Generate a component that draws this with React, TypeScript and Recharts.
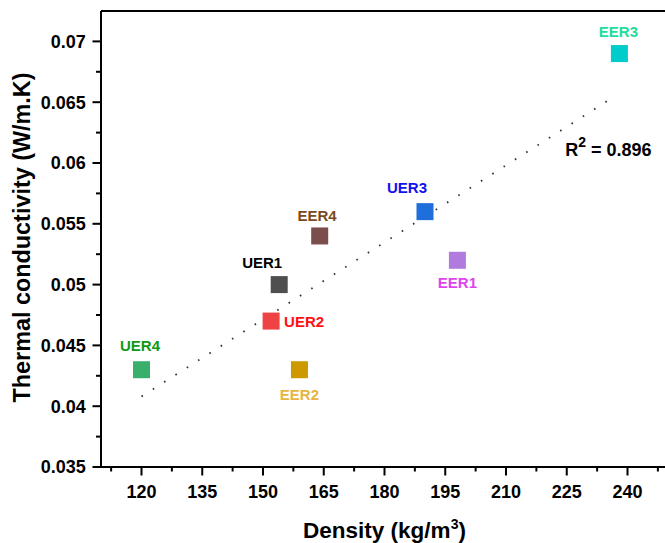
import React from 'react';
import { ScatterChart, Scatter, XAxis, YAxis, ReferenceLine, ReferenceDot, Label } from 'recharts';

// ---- data ----
const sampleNames = ['UER1', 'UER2', 'UER3', 'UER4', 'EER1', 'EER2', 'EER3', 'EER4'];
const densityValues = [154, 152, 190, 120, 198, 159, 238, 164];
const conductivityValues = [0.05, 0.047, 0.056, 0.043, 0.052, 0.043, 0.069, 0.054];

const xMajorTicks = [120, 135, 150, 165, 180, 195, 210, 225, 240];
const xMinorTicks = [112.5, 127.5, 142.5, 157.5, 172.5, 187.5, 202.5, 217.5, 232.5, 247.5];
const yMajorTicks = [0.035, 0.04, 0.045, 0.05, 0.055, 0.06, 0.065, 0.07];
const yMajorTickLabels = ['0.035', '0.04', '0.045', '0.05', '0.055', '0.06', '0.065', '0.07'];
const yMinorTicks = [0.0375, 0.0425, 0.0475, 0.0525, 0.0575, 0.0625, 0.0675];

const fitLineX = [120, 235.5];
const fitLineY = [0.0408, 0.0652];
const rSquaredValue = '0.896';
const rSquaredAnchorX = 224.6;
const rSquaredAnchorY = 0.0606;

const xDomain = [110, 250];
const yDomain = [0.035, 0.0725];

// ---- styles ----
const FONT = '"Liberation Sans", Arial, Helvetica, sans-serif';
const markerColors: Record<string, string> = {
  UER1: '#4f4f4f', UER2: '#ef4343', UER3: '#1e6fdc', UER4: '#38af6b',
  EER1: '#b07adf', EER2: '#cc9900', EER3: '#00cccc', EER4: '#7b4d4d',
};
const labelColors: Record<string, string> = {
  UER1: '#000000', UER2: '#ff1111', UER3: '#1111ee', UER4: '#119911',
  EER1: '#dd44ee', EER2: '#e8b440', EER3: '#22dd99', EER4: '#7a4a20',
};
const labelPlacement: Record<string, { dx: number; dy: number; anchor: 'start' | 'middle' }> = {
  UER1: { dx: -17, dy: -21.6, anchor: 'middle' },
  UER2: { dx: 13, dy: 0.7, anchor: 'start' },
  UER3: { dx: -18, dy: -24, anchor: 'middle' },
  UER4: { dx: -1.5, dy: -24, anchor: 'middle' },
  EER1: { dx: 0, dy: 22.4, anchor: 'middle' },
  EER2: { dx: 0, dy: 25, anchor: 'middle' },
  EER3: { dx: -1, dy: -22, anchor: 'middle' },
  EER4: { dx: -2.7, dy: -20.3, anchor: 'middle' },
};
const SQ = 17;

const XTick = (props: any) => {
  const { x, y, payload } = props;
  const v = payload.value;
  const major = xMajorTicks.includes(v);
  return (
    <g>
      <line x1={x} x2={x} y1={y} y2={y + (major ? 8.5 : 4.5)} stroke="#000" strokeWidth={2} />
      {major && (
        <text x={x} y={y + 30.5} textAnchor="middle" fontSize={18} fontWeight="bold" fontFamily={FONT} fill="#000">
          {String(v)}
        </text>
      )}
    </g>
  );
};

const YTick = (props: any) => {
  const { x, y, payload } = props;
  const v = payload.value;
  const idx = yMajorTicks.indexOf(v);
  const major = idx >= 0;
  return (
    <g>
      <line x1={x} x2={x - (major ? 8.5 : 5)} y1={y} y2={y} stroke="#000" strokeWidth={2} />
      {major && (
        <text x={x - 15.3} y={y + 6.4} textAnchor="end" fontSize={18} fontWeight="bold" fontFamily={FONT} fill="#000">
          {yMajorTickLabels[idx]}
        </text>
      )}
    </g>
  );
};

const makeShape = (name: string) => (props: any) => {
  const { cx, cy } = props;
  if (cx == null || cy == null) return <g />;
  const p = labelPlacement[name];
  return (
    <g>
      <rect x={cx - SQ / 2} y={cy - SQ / 2} width={SQ} height={SQ} fill={markerColors[name]} />
      <text
        x={cx + p.dx}
        y={cy + p.dy + 5.4}
        textAnchor={p.anchor}
        fontSize={15}
        fontWeight="bold"
        fontFamily={FONT}
        fill={labelColors[name]}
      >
        {name}
      </text>
    </g>
  );
};

const XTitle = (props: any) => {
  const vb = props.viewBox || { x: 101, y: 466.7, width: 567, height: 76 };
  return (
    <text x={vb.x + vb.width / 2} y={vb.y + 70.5} textAnchor="middle" fontSize={22.5} fontWeight="bold" fontFamily={FONT} fill="#000">
      Density (kg/m
      <tspan dy={-9} fontSize={14}>3</tspan>
      <tspan dy={9}>)</tspan>
    </text>
  );
};

const YTitle = (props: any) => {
  const vb = props.viewBox || { x: 0, y: 11, width: 101, height: 455.7 };
  const cx = vb.x + 30;
  const cy = vb.y + vb.height / 2 - 1.5;
  return (
    <text
      x={cx}
      y={cy}
      transform={`rotate(-90, ${cx}, ${cy})`}
      textAnchor="middle"
      fontSize={23.4}
      fontWeight="bold"
      fontFamily={FONT}
      fill="#000"
    >
      Thermal conductivity (W/m.K)
    </text>
  );
};

const RSquaredShape = (props: any) => {
  const { cx, cy } = props;
  if (cx == null || cy == null) return <g />;
  return (
    <text x={cx} y={cy} fontSize={18} fontWeight="bold" fontFamily={FONT} fill="#000">
      R
      <tspan dy={-9} fontSize={14}>2</tspan>
      <tspan dy={9}>{' = ' + rSquaredValue}</tspan>
    </text>
  );
};

export default function App() {
  const xTicksAll = [...xMinorTicks, ...xMajorTicks].sort((a, b) => a - b);
  const yTicksAll = [...yMinorTicks, ...yMajorTicks].sort((a, b) => a - b);
  const fitSegment = [
    { x: fitLineX[0], y: fitLineY[0] },
    { x: fitLineX[1], y: fitLineY[1] },
  ];
  return (
    <div style={{ position: 'absolute', left: 0, top: 0, width: 665, height: 543, overflow: 'hidden', background: '#fff' }}>
      <ScatterChart width={668} height={543} margin={{ top: 11, right: 0, bottom: 0, left: 0 }}>
        <XAxis
          type="number"
          dataKey="x"
          domain={xDomain}
          ticks={xTicksAll}
          interval={0}
          tick={<XTick />}
          tickLine={false}
          tickSize={0}
          tickMargin={0}
          height={76}
          allowDataOverflow
          axisLine={{ stroke: '#000', strokeWidth: 2 }}
        >
          <Label content={<XTitle />} />
        </XAxis>
        <YAxis
          type="number"
          dataKey="y"
          domain={yDomain}
          ticks={yTicksAll}
          interval={0}
          tick={<YTick />}
          tickLine={false}
          tickSize={0}
          tickMargin={0}
          width={101}
          allowDataOverflow
          axisLine={{ stroke: '#000', strokeWidth: 2 }}
        >
          <Label content={<YTitle />} />
        </YAxis>
        <ReferenceLine y={yDomain[1]} stroke="#000" strokeWidth={2} />
        {sampleNames.map((name, i) => (
          <Scatter
            key={name}
            name={name}
            data={[{ x: densityValues[i], y: conductivityValues[i] }]}
            shape={makeShape(name)}
            isAnimationActive={false}
          />
        ))}
        <ReferenceLine
          segment={fitSegment}
          stroke="#333"
          strokeWidth={1.8}
          strokeDasharray="1.6 11.8"
        />
        <ReferenceDot x={rSquaredAnchorX} y={rSquaredAnchorY} r={0} shape={<RSquaredShape />} />
      </ScatterChart>
    </div>
  );
}
